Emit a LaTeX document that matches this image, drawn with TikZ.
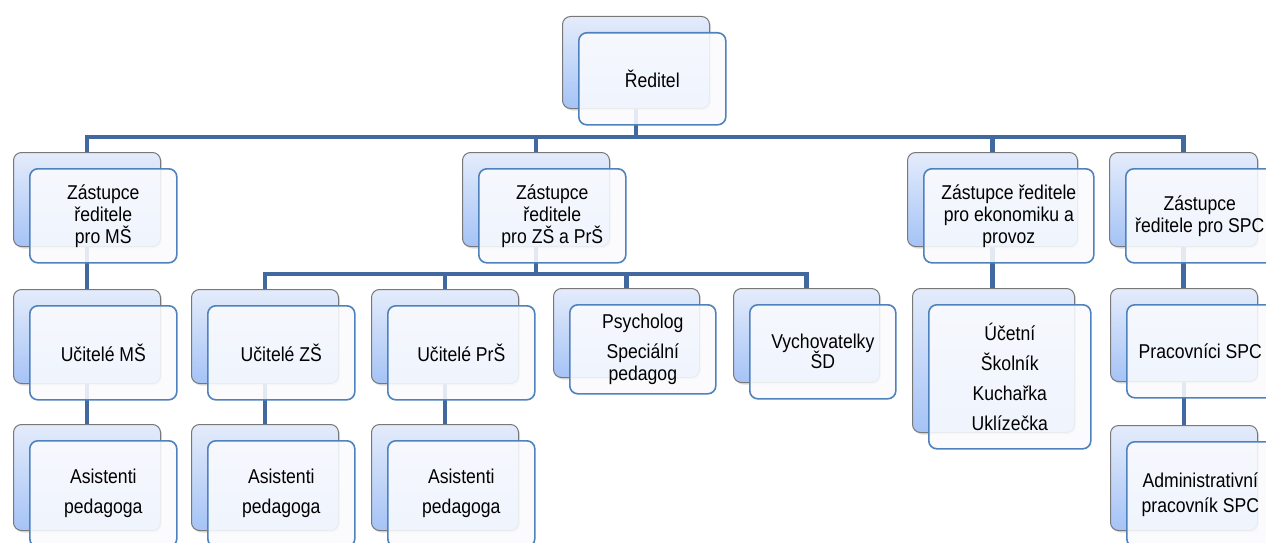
\documentclass[tikz,border=0pt]{standalone}
\usepackage{fontspec}
\setmainfont{Liberation Sans}[FakeStretch=0.88]
\usetikzlibrary{shadows}
\definecolor{backtop}{RGB}{228,236,251}
\definecolor{backbot}{RGB}{165,195,246}
\definecolor{backline}{RGB}{120,120,120}
\definecolor{frontfill}{RGB}{250,251,254}
\definecolor{frontline}{RGB}{79,129,189}
\definecolor{connc}{RGB}{65,105,160}
\pgfdeclarelayer{bg}
\pgfsetlayers{bg,main}
\tikzset{
  backbox/.style={rectangle, rounded corners=8pt, draw=backline, line width=1pt,
    top color=backtop, bottom color=backbot, inner sep=0pt,
    drop shadow={shadow xshift=1.5pt, shadow yshift=-2pt, opacity=0.25}},
  frontbox/.style={rectangle, rounded corners=8pt, draw=frontline, line width=1.6pt,
    fill=frontfill, fill opacity=0.88, text opacity=1, inner sep=2pt, align=center,
    font=\fontsize{20}{22}\selectfont},
  conn/.style={draw=connc, line width=4.5pt}
}
\newcommand{\obox}[6]{%
  \node[backbox, minimum width=#4pt, minimum height=#5pt, anchor=north west] (#1b) at (#2,#3) {};
  \node[frontbox, minimum width=#4pt, minimum height=#5pt, anchor=north west] (#1) at (#2+16,#3+16) {#6};
}
\begin{document}
\begin{tikzpicture}[x=1pt,y=-1pt]
\useasboundingbox (0,0) rectangle (1266,543);
\obox{r}{562}{16}{147}{92}{Ředitel}
\obox{za}{13}{152}{147}{94}{Zástupce\\ředitele\\ pro MŠ}
\obox{zb}{462}{152}{147}{94}{Zástupce\\ředitele\\pro ZŠ a PrŠ}
\obox{zc}{907}{152}{170}{94}{Zástupce ředitele\\pro ekonomiku a\\provoz}
\obox{zd}{1109}{152}{148}{94}{Zástupce\\ředitele pro SPC}
\obox{ua}{13}{289}{147}{94}{Učitelé MŠ}
\obox{ub}{191}{289}{147}{94}{Učitelé ZŠ}
\obox{uc}{371}{289}{147}{94}{Učitelé PrŠ}
\obox{ps}{553}{288}{146}{89}{Psycholog\\[8pt]Speciální\\pedagog}
\obox{vy}{733}{288}{146}{94}{Vychovatelky\\[-2pt]ŠD}
\obox{ue}{912}{288}{162}{144}{Účetní\\[8pt]Školník\\[8pt]Kuchařka\\[8pt]Uklízečka}
\obox{sp}{1110}{288}{147}{93}{Pracovníci SPC}
\obox{aa}{13}{424}{147}{106}{Asistenti\\[8pt]pedagoga}
\obox{ab}{191}{424}{147}{106}{Asistenti\\[8pt]pedagoga}
\obox{ac}{371}{424}{147}{106}{Asistenti\\[8pt]pedagoga}
\obox{ad}{1110}{425}{147}{105}{Administrativní\\[3pt]pracovník SPC}
\coordinate (busa) at (0,137);
\coordinate (busb) at (0,274);
\begin{pgfonlayer}{bg}
\draw[conn] (rb.south) -- (rb.south |- busa) -| (zab.north);
\draw[conn] (rb.south) -- (rb.south |- busa) -| (zbb.north);
\draw[conn] (rb.south) -- (rb.south |- busa) -| (zcb.north);
\draw[conn] (rb.south) -- (rb.south |- busa) -| (zdb.north);
\draw[conn] (zbb.south) -- (zbb.south |- busb) -| (ubb.north);
\draw[conn] (zbb.south) -- (zbb.south |- busb) -| (ucb.north);
\draw[conn] (zbb.south) -- (zbb.south |- busb) -| (psb.north);
\draw[conn] (zbb.south) -- (zbb.south |- busb) -| (vyb.north);
\draw[conn] (zab.south) -- (uab.north);
\draw[conn] (uab.south) -- (aab.north);
\draw[conn] (ubb.south) -- (abb.north);
\draw[conn] (ucb.south) -- (acb.north);
\draw[conn] (zcb.south) -- (zcb.south |- ueb.north);
\draw[conn] (zdb.south) -- (zdb.south |- spb.north);
\draw[conn] (spb.south) -- (spb.south |- adb.north);
\end{pgfonlayer}
\end{tikzpicture}
\end{document}
